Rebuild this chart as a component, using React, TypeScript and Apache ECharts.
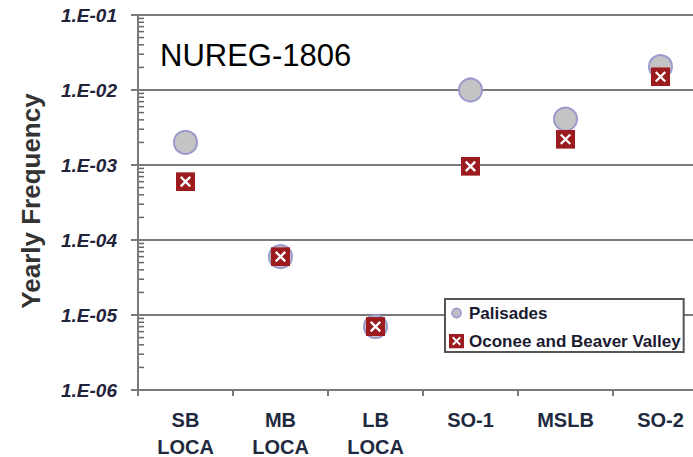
import React, { useEffect, useRef } from "react";
import * as echarts from "echarts";

const categories = ["SB\nLOCA", "MB\nLOCA", "LB\nLOCA", "SO-1", "MSLB", "SO-2"];
const palisades = [2.0e-3, 6.0e-5, 7.0e-6, 1.0e-2, 4.1e-3, 2.05e-2];
const oconee = [6.0e-4, 6.0e-5, 7.0e-6, 9.6e-4, 2.2e-3, 1.5e-2];
const yTickLabels = ["1.E-06", "1.E-05", "1.E-04", "1.E-03", "1.E-02", "1.E-01"];
const minorMultipliers = [2, 3, 4, 5, 6, 7, 8, 9];
const decades = [1e-6, 1e-5, 1e-4, 1e-3, 1e-2];

const GRAY = "#7a7a7a";
const FONT = "'Liberation Sans', Arial, sans-serif";

const squareSvg = (s: number) =>
  `<svg xmlns="http://www.w3.org/2000/svg" width="${s}" height="${s}" viewBox="0 0 20 20"><rect x="0" y="0" width="20" height="20" fill="#9b1b1f"/><path d="M5 5 L15 15 M15 5 L5 15" stroke="#ffffff" stroke-width="2.4"/></svg>`;
const smallCircleSvg =
  `<svg xmlns="http://www.w3.org/2000/svg" width="15" height="15" viewBox="0 0 15 15"><circle cx="7.5" cy="7.5" r="4.6" fill="#bdbdc8" stroke="#9a9acd" stroke-width="1.6"/></svg>`;
const img = (svg: string) => "image://data:image/svg+xml;charset=utf-8," + encodeURIComponent(svg);

export default function App() {
  const ref = useRef<HTMLDivElement>(null);
  useEffect(() => {
    if (!ref.current) return;
    const chart = echarts.init(ref.current, null, { renderer: "svg" });
    const minorTicks = decades.flatMap((d) => minorMultipliers.map((m) => [0, m * d]));
    chart.setOption({
      animation: false,
      backgroundColor: "#ffffff",
      grid: { left: 138, top: 15, width: 570, height: 375, containLabel: false, outerBoundsMode: "none" },
      xAxis: [
        {
          type: "category",
          data: categories,
          boundaryGap: true,
          axisLine: { show: true, lineStyle: { color: GRAY, width: 2 } },
          axisTick: { show: true, interval: 0, length: 6, lineStyle: { color: GRAY, width: 2 } },
          axisLabel: {
            interval: 0,
            margin: 16,
            fontFamily: FONT,
            fontWeight: "bold",
            fontSize: 20,
            lineHeight: 27,
            color: "#1f2a40",
          },
          splitLine: { show: false },
        },
        {
          type: "value",
          min: 0,
          max: 1,
          show: false,
          splitLine: { show: false },
        },
      ],
      yAxis: {
        type: "log",
        logBase: 10,
        min: 1e-6,
        max: 1e-1,
        interval: 1,
        axisLine: { show: true, lineStyle: { color: GRAY, width: 2 } },
        axisTick: { show: true, inside: false, length: 7, lineStyle: { color: GRAY, width: 2 } },
        minorTick: { show: false },
        axisLabel: {
          margin: 21,
          fontFamily: FONT,
          fontWeight: "bold",
          fontStyle: "italic",
          fontSize: 19,
          color: "#22223a",
          formatter: (v: number) => yTickLabels[Math.round(Math.log10(v)) + 6] ?? "",
        },
        splitLine: { show: true, lineStyle: { color: GRAY, width: 2 } },
      },
      legend: {
        orient: "vertical",
        left: 445,
        top: 299,
        padding: [5, 3, 2, 4],
        itemGap: 10,
        itemWidth: 15,
        itemHeight: 15,
        backgroundColor: "#ffffff",
        borderColor: "#555555",
        borderWidth: 2,
        textStyle: { fontFamily: FONT, fontWeight: "bold", fontSize: 17, lineHeight: 18, color: "#1a1a30" },
        data: [
          { name: "Palisades", icon: img(smallCircleSvg) },
          { name: "Oconee and Beaver Valley", icon: img(squareSvg(15)) },
        ],
      },
      graphic: [
        {
          type: "text",
          x: 160,
          y: 55,
          style: {
            text: "NUREG-1806",
            fontFamily: FONT,
            fontSize: 31,
            fill: "#000000",
            align: "left",
            verticalAlign: "middle",
          },
          z: 10,
        },
        {
          type: "text",
          x: 31,
          y: 201,
          rotation: Math.PI / 2,
          style: {
            text: "Yearly Frequency",
            fontFamily: FONT,
            fontSize: 26,
            fontWeight: "bold",
            fill: "#333333",
            align: "center",
            verticalAlign: "middle",
          },
        },
      ],
      series: [
        {
          name: "minorTicks",
          type: "scatter",
          xAxisIndex: 1,
          silent: true,
          clip: false,
          z: 3,
          data: minorTicks,
          symbol: "rect",
          symbolSize: [5, 1.5],
          symbolOffset: [3.5, 0],
          itemStyle: { color: "#666666", opacity: 1 },
        },
        {
          name: "Palisades",
          type: "scatter",
          data: palisades,
          symbol: "circle",
          symbolSize: 23,
          itemStyle: { color: "#c4c4c4", borderColor: "#9a9acd", borderWidth: 2, opacity: 1 },
          z: 4,
        },
        {
          name: "Oconee and Beaver Valley",
          type: "scatter",
          data: oconee,
          symbol: img(squareSvg(19)),
          symbolSize: 19,
          itemStyle: { color: "#9b1b1f", opacity: 1 },
          z: 5,
        },
      ],
    });
    return () => chart.dispose();
  }, []);
  return <div ref={ref} style={{ position: "fixed", left: 0, top: 0, width: 693, height: 457 }} />;
}
